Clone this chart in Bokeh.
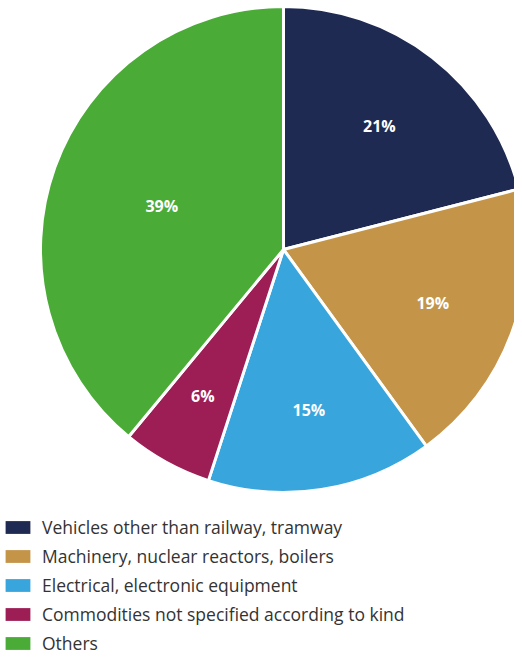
import numpy as np
from bokeh.plotting import figure
from bokeh.models import ColumnDataSource, Range1d, Legend, LegendItem
from bokeh.core.properties import value
from bokeh.embed import file_html
from bokeh.resources import INLINE

categories = [
    "Vehicles other than railway, tramway",
    "Machinery, nuclear reactors, boilers",
    "Electrical, electronic equipment",
    "Commodities not specified according to kind",
    "Others",
]
shares = [21, 19, 15, 6, 39]
colors = ["#1f2a52", "#c49549", "#38a5dd", "#9c1e55", "#4aab37"]

W, H = 514, 655
cx, cy, R = 283, H - 249, 243

vals = np.array(shares, dtype=float)
frac = vals / vals.sum()
cum = np.concatenate([[0], np.cumsum(frac)])
start = np.pi / 2 - cum[:-1] * 2 * np.pi
end = np.pi / 2 - cum[1:] * 2 * np.pi
mid = (start + end) / 2
half = (cum[1:] - cum[:-1]) * np.pi
# label at sector centroid
rc = 2 * R * np.sin(half) / (3 * half) * 1.04
lx = cx + rc * np.cos(mid)
ly = cy + rc * np.sin(mid)

src = ColumnDataSource(dict(
    cat=categories, color=colors, start=start, end=end,
    lx=lx, ly=ly, lab=[f"{s}%" for s in shares],
    x=[cx] * len(shares), y=[cy] * len(shares),
))

p = figure(width=W, height=H, output_backend="svg", toolbar_location=None,
           x_range=Range1d(0, W), y_range=Range1d(0, H),
           min_border=0, outline_line_color=None)
p.axis.visible = False
p.grid.visible = False
p.background_fill_color = "white"
p.border_fill_color = "white"

r = p.wedge(x="x", y="y", radius=R, start_angle="start", end_angle="end",
            direction="clock", fill_color="color", line_color="white",
            line_width=3, source=src)

p.text(x="lx", y="ly", text="lab", source=src, text_color="white",
       text_font=value("Open Sans"), text_font_style="bold",
       text_font_size="16px", text_align="center", text_baseline="middle")

items = []
for i, c in enumerate(categories):
    rr = p.rect(x=[-100], y=[-100], width=1, height=1, fill_color=colors[i],
                line_color=None)
    items.append(LegendItem(label=c, renderers=[rr]))

legend = Legend(items=items, location=(2, 0), orientation="vertical",
                glyph_width=31, glyph_height=16, label_height=16,
                label_standoff=9, spacing=5, padding=0, margin=0,
                border_line_color=None, background_fill_alpha=0,
                label_text_font="Open Sans", label_text_font_size="17.5px",
                label_text_color="#333333")
p.add_layout(legend, "center")

open("out.html", "w").write(file_html(p, INLINE))
